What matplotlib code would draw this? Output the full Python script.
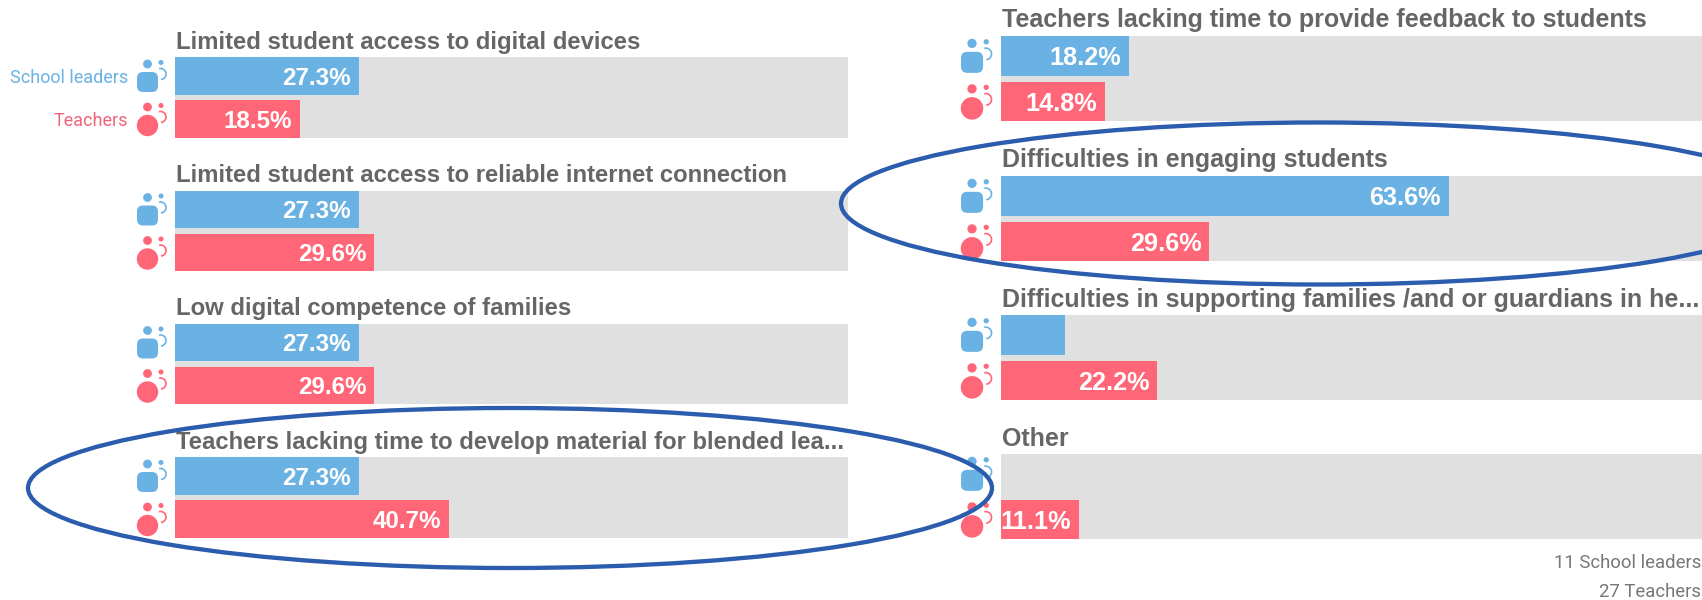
import matplotlib
matplotlib.use("Agg")
import matplotlib.pyplot as plt
from matplotlib.patches import Circle, Ellipse, FancyBboxPatch, Arc

titles_left = ["Limited student access to digital devices",
               "Limited student access to reliable internet connection",
               "Low digital competence of families",
               "Teachers lacking time to develop material for blended lea..."]
leaders_left = [27.3, 27.3, 27.3, 27.3]
teachers_left = [18.5, 29.6, 29.6, 40.7]
titles_right = ["Teachers lacking time to provide feedback to students",
                "Difficulties in engaging students",
                "Difficulties in supporting families /and or guardians in he...",
                "Other"]
leaders_right = [18.2, 63.6, 9.1, 0.0]
teachers_right = [14.8, 29.6, 22.2, 11.1]
groups = ["School leaders", "Teachers"]
notes = ["11 School leaders", "27 Teachers"]

BLUE, RED, GREY = "#6ab2e3", "#ff6678", "#e0e0e0"
TXT, RING = "#666666", "#2b5cad"
W, H = 1702, 600
plt.rcParams["font.family"] = ["Liberation Sans", "DejaVu Sans"]
fig = plt.figure(figsize=(W/100, H/100), dpi=100, facecolor="white")


def px(x0, y0, x1, y1, **kw):
    return fig.add_axes([x0/W, 1-y1/H, (x1-x0)/W, (y1-y0)/H], **kw)


ov = px(0, 0, W, H, zorder=5)
ov.set_xlim(0, W)
ov.set_ylim(H, 0)
ov.axis("off")
ov.patch.set_alpha(0)


def icon(x0, y, col, square, s):
    """y is the top of the coloured bar the icon belongs to; s the panel scale."""
    ov.add_patch(Circle((x0-27.5*s, y+7*s), 4.4*s, color=col, lw=0))
    ov.add_patch(Circle((x0-14*s, y+5.5*s), 2.5*s, color=col, lw=0))
    ov.add_patch(Arc((x0-14.5*s, y+17*s), 11*s, 11*s, theta1=-105, theta2=85, color=col, lw=1.2))
    if square:
        ov.add_patch(FancyBboxPatch((x0-35*s, y+18*s), 15*s, 14*s,
                                    boxstyle=f"round,pad={3*s},rounding_size={6*s}", color=col, lw=0))
    else:
        ov.add_patch(Circle((x0-27.5*s, y+25.5*s), 10.7*s, color=col, lw=0))


def panel(x0, x1, xmax, tops, row_h, bar_h, fs, titles, lead, teach):
    gap = row_h - 2*bar_h
    h = bar_h/(bar_h+gap)
    s = bar_h/37.5
    for top, t, a, b in zip(tops, titles, lead, teach):
        ax = px(x0, top, x1, top+row_h)
        ax.set_xlim(0, xmax)
        ax.set_ylim(1+h/2, -h/2)
        ax.axis("off")
        ax.barh([0.5], [100], height=1+h, color=GREY, lw=0)
        ax.barh([0, 1], [a, b], height=h, color=[BLUE, RED], lw=0)
        for y, v in zip([0, 1], [a, b]):
            if v >= 11:
                ax.annotate(f"{v:.1f}%", (v, y), xytext=(-8, 0), textcoords="offset pixels",
                            ha="right", va="center_baseline", color="white",
                            fontsize=fs+0.2, fontweight="bold")
        ov.text(x0+1, top-8.5, t, fontsize=fs, fontweight="bold", color=TXT, ha="left", va="baseline")
        icon(x0, top, BLUE, True, s)
        icon(x0, top+bar_h+gap, RED, False, s)


panel(175, 848, 100, [57, 190.5, 323.5, 457], 80.5, 37.5, 17.2,
      titles_left, leaders_left, teachers_left)
panel(1001, 1702, 99.6, [36, 176, 315, 454], 85, 39.5, 18.0,
      titles_right, leaders_right, teachers_right)

ov.text(128, 78, groups[0], color=BLUE, fontsize=13, family="Roboto", ha="right", va="center")
ov.text(128, 121, groups[1], color="#f0647a", fontsize=13, family="Roboto", ha="right", va="center")
ov.text(1701, 563, notes[0], color="#777777", fontsize=13.3, family="Roboto", ha="right", va="center")
ov.text(1701, 592, notes[1], color="#777777", fontsize=13.3, family="Roboto", ha="right", va="center")

ov.add_patch(Ellipse((510, 488), 964, 160, fill=False, ec=RING, lw=3.1))
ov.add_patch(Ellipse((1319, 203.5), 956, 162, fill=False, ec=RING, lw=3.1))
fig.savefig("out.png", dpi=100)
